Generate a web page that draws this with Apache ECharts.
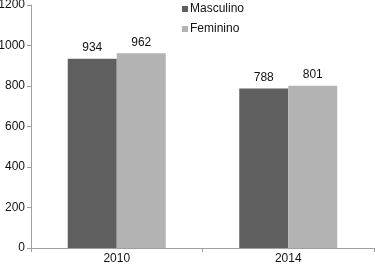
<!DOCTYPE html>
<html>
<head>
<meta charset="utf-8">
<script src="https://cdn.jsdelivr.net/npm/echarts@6/dist/echarts.min.js"></script>
<style>
  html, body { margin: 0; padding: 0; background: #fff; }
  #chart { width: 375px; height: 264px; }
</style>
</head>
<body>
<div id="chart"></div>
<script>
const years = ['2010', '2014']
const masculino = [934, 788]
const feminino = [962, 801]

const chart = echarts.init(document.getElementById('chart'))
const font = '"Liberation Sans", Arial, sans-serif'

chart.setOption({
  animation: false,
  textStyle: { fontFamily: font },
  grid: { left: 31, right: 1, top: 5, bottom: 16, containLabel: false, outerBoundsMode: 'none' },
  legend: {
    orient: 'vertical',
    left: 182,
    top: 3,
    itemWidth: 6,
    itemHeight: 6,
    itemGap: 8,
    icon: 'rect',
    padding: 0,
    textStyle: { fontFamily: font, fontSize: 12, color: '#111', padding: [0, 0, 0, -3] },
    data: ['Masculino', 'Feminino'],
  },
  xAxis: {
    type: 'category',
    data: years,
    axisLine: { lineStyle: { color: '#a0a0a0', width: 1 } },
    axisTick: { show: true, length: 4, lineStyle: { color: '#a0a0a0' } },
    axisLabel: { color: '#111', fontSize: 12, margin: 5, fontFamily: font },
  },
  yAxis: {
    type: 'value',
    min: 0,
    max: 1200,
    interval: 200,
    axisLine: { show: true, lineStyle: { color: '#a0a0a0', width: 1 } },
    axisTick: { show: true, length: 4, lineStyle: { color: '#a0a0a0' } },
    splitLine: { show: false },
    axisLabel: { color: '#111', fontSize: 12, margin: 6, fontFamily: font, formatter: (v) => String(v) },
  },
  series: [
    {
      name: 'Masculino',
      type: 'bar',
      data: masculino,
      barWidth: 49,
      barGap: '0%',
      itemStyle: { color: '#5f5f5f' },
      label: { show: true, position: 'top', distance: 5, color: '#111', fontSize: 12, fontFamily: font },
    },
    {
      name: 'Feminino',
      type: 'bar',
      data: feminino,
      barWidth: 49,
      barGap: '0%',
      itemStyle: { color: '#b3b3b3' },
      label: { show: true, position: 'top', distance: 5, color: '#111', fontSize: 12, fontFamily: font },
    },
  ],
})
</script>
</body>
</html>
